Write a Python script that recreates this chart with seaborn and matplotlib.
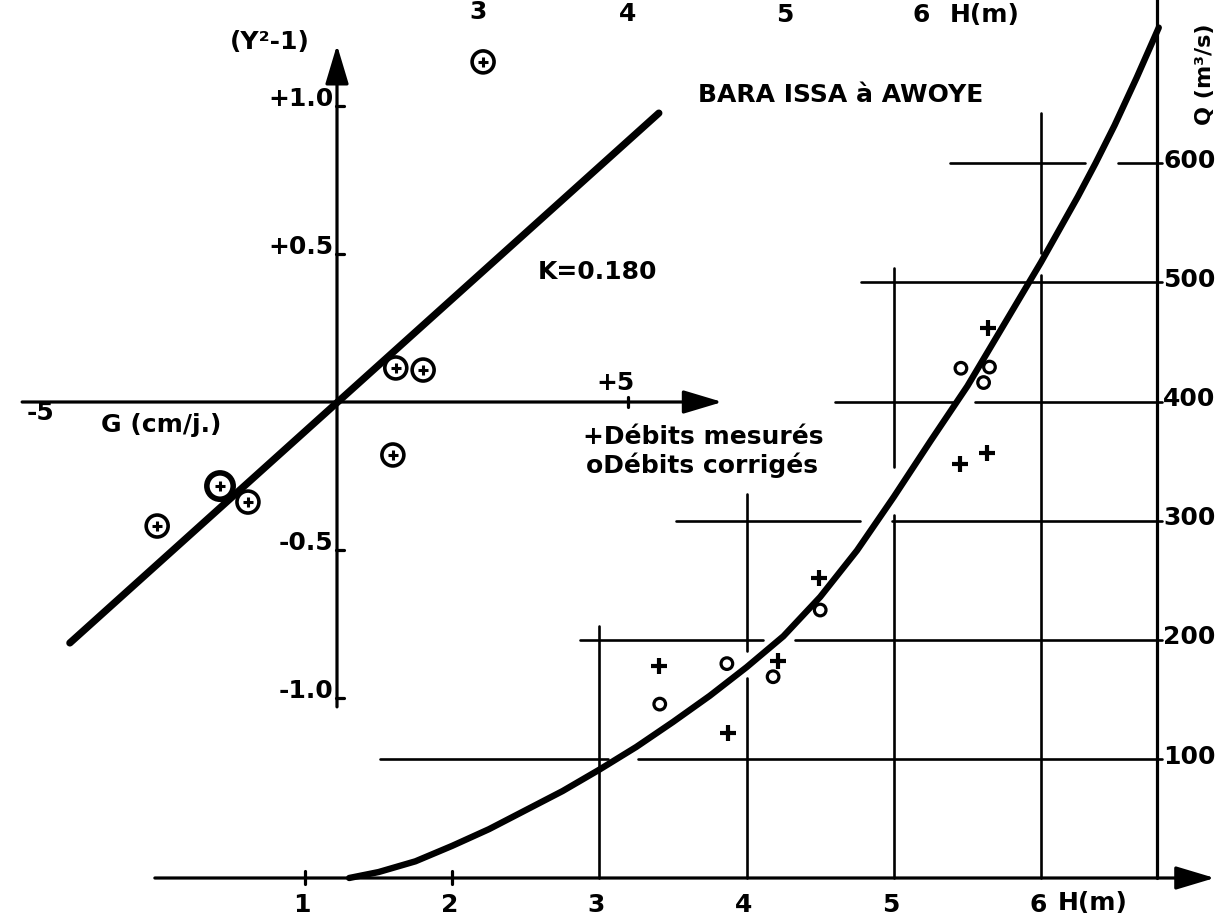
import matplotlib
matplotlib.use("Agg")
import matplotlib.pyplot as plt
import seaborn as sns
import pandas as pd

# ---------------- DATA ----------------
# Left diagram: gradient G (cm/j.) versus (Y^2 - 1)
G_points = [2.51, 1.01, 1.48, 0.96, -2.01, -1.53, -3.09]
Y_points = [1.149, 0.115, 0.108, -0.179, -0.284, -0.338, -0.419]
bold_point = [False, False, False, False, True, False, False]
G_line = [-4.59, 5.53]
Y_line = [-0.814, 0.976]
K_label = "K=0.180"
Y_ticks = [1.0, 0.5, -0.5, -1.0]
Y_tick_labels = ["+1.0", "+0.5", "-0.5", "-1.0"]
G_ticks = [5]

# Right diagram: rating curve H (m) -> Q (m3/s)
H_curve = [1.30, 1.50, 1.75, 2.00, 2.25, 2.50, 2.75, 3.00, 3.25, 3.50, 3.75,
           4.00, 4.25, 4.50, 4.75, 5.00, 5.25, 5.50, 5.75, 6.00, 6.25, 6.37,
           6.50, 6.65, 6.80]
Q_curve = [0, 5, 14, 27, 41, 57, 73, 91, 110, 131, 153,
           177, 203, 236, 275, 320, 367, 413, 465, 517, 572, 600,
           632, 672, 714]
H_mes = [3.405, 3.873, 4.213, 4.49, 5.64, 5.45, 5.63]
Q_mes = [178, 122, 182, 252, 462, 348, 357]
H_cor = [3.866, 3.41, 4.18, 4.50, 5.456, 5.65, 5.61]
Q_cor = [180, 146, 169, 225, 428, 429, 416]
H_ticks = [1, 2, 3, 4, 5, 6]
Q_ticks = [100, 200, 300, 400, 500, 600]
top_labels = ["3", "4", "5", "6", "H(m)"]

title = "BARA ISSA à AWOYE"
legend_mes = "+Débits mesurés"
legend_cor = "oDébits corrigés"

# ---------------- LAYOUT ----------------
W, Hpx = 1231, 921
gx0, gsc = 337.0, 58.2      # G -> px
yy0, ysc = 402.0, 296.0     # Y -> px (from top)
hx0, hsc = 157.8, 147.2     # H -> px
qy0, qsc = 878.0, 1.191     # Q -> px (from top)

sns.set_style("white")
plt.rcParams["font.family"] = ["DejaVu Sans"]
FS = 18
TXT = dict(color="black", fontweight="bold", fontsize=FS)

fig = plt.figure(figsize=(W / 100, Hpx / 100), dpi=100)
fig.patch.set_facecolor("white")
ax1 = fig.add_axes([0, 0, 1, 1])
ax2 = fig.add_axes([0, 0, 1, 1])
for ax in (ax1, ax2):
    ax.set_axis_off()
    ax.patch.set_alpha(0)
ax1.set_xlim((0 - gx0) / gsc, (W - gx0) / gsc)
ax1.set_ylim((yy0 - Hpx) / ysc, yy0 / ysc)
ax2.set_xlim((0 - hx0) / hsc, (W - hx0) / hsc)
ax2.set_ylim((qy0 - Hpx) / qsc, qy0 / qsc)

AX_LW = 2.3
GR_LW = 1.9
ARROW = dict(arrowstyle="-|>,head_length=1.5,head_width=0.45", lw=AX_LW,
             color="black", shrinkA=0, shrinkB=0, mutation_scale=16)

# ---- left diagram axes
ax1.annotate("", xy=(6.62, 0), xytext=(-5.41, 0), arrowprops=ARROW)
ax1.annotate("", xy=(0, 1.206), xytext=(0, -1.03), arrowprops=ARROW)
for yt in Y_ticks:
    ax1.plot([-0.02, 0.12], [yt, yt], color="black", lw=AX_LW)
for gt in G_ticks:
    ax1.plot([gt, gt], [-0.018, 0.018], color="black", lw=AX_LW)

# regression line
sns.lineplot(x=G_line, y=Y_line, ax=ax1, color="black", lw=5.2,
             estimator=None, sort=False, legend=False)

# circled points
dfp = pd.DataFrame({"G": G_points, "Y": Y_points, "bold": bold_point})
norm = dfp[~dfp["bold"]]
bold = dfp[dfp["bold"]]
sns.scatterplot(data=norm, x="G", y="Y", ax=ax1, marker="o", s=250,
                facecolor="none", edgecolor="black", linewidth=2.6, zorder=5)
sns.scatterplot(data=bold, x="G", y="Y", ax=ax1, marker="o", s=360,
                facecolor="none", edgecolor="black", linewidth=4.0, zorder=5)
sns.scatterplot(data=dfp, x="G", y="Y", ax=ax1, marker="+", s=55,
                color="black", linewidth=2.2, zorder=6)

# left diagram texts
ax1.text(-1.15, 1.216, "(Y²-1)", ha="center", va="center", **TXT)
for yt, lab in zip(Y_ticks, Y_tick_labels):
    ax1.text(-0.06, yt + 0.022, lab, ha="right", va="center", **TXT)
ax1.text(-5.10, -0.037, "-5", ha="center", va="center", **TXT)
ax1.text(-3.02, -0.078, "G (cm/j.)", ha="center", va="center", **TXT)
ax1.text(4.79, 0.064, "+5", ha="center", va="center", **TXT)
ax1.text(4.48, 0.439, K_label, ha="center", va="center", **TXT)

# ---- right diagram: axes and grid
ax2.annotate("", xy=(7.18, 0), xytext=(-0.02, 0), arrowprops=ARROW)
HR = 6.79
ax2.plot([HR, HR], [0, 740], color="black", lw=AX_LW)
for ht in H_ticks[:2]:
    ax2.plot([ht, ht], [-5, 6], color="black", lw=AX_LW)

h_segments = {   # Q level -> list of (H start, H end)
    100: [(1.51, 3.06), (3.26, HR + 0.03)],
    200: [(2.87, 4.11), (4.33, HR + 0.03)],
    300: [(3.52, 4.77), (4.99, HR + 0.03)],
    400: [(4.60, 5.40), (5.55, HR + 0.03)],
    500: [(4.78, HR + 0.03)],
    600: [(5.38, 6.30), (6.52, HR + 0.03)],
}
v_segments = {   # H level -> list of (Q start, Q end)
    3: [(0, 212)],
    4: [(0, 168), (191, 322)],
    5: [(0, 305), (345, 512)],
    6: [(0, 506), (525, 642)],
}
for q, segs in h_segments.items():
    for a, b in segs:
        ax2.plot([a, b], [q, q], color="black", lw=GR_LW)
for h, segs in v_segments.items():
    for a, b in segs:
        ax2.plot([h, h], [a, b], color="black", lw=GR_LW)

# rating curve
sns.lineplot(x=H_curve, y=Q_curve, ax=ax2, color="black", lw=4.6,
             estimator=None, sort=False, legend=False)

# measured / corrected discharges
sns.scatterplot(x=H_mes, y=Q_mes, ax=ax2, marker="+", s=120, color="black",
                linewidth=3.0, zorder=6)
sns.scatterplot(x=H_cor, y=Q_cor, ax=ax2, marker="o", s=70, facecolor="none",
                edgecolor="black", linewidth=2.3, zorder=6)

# right diagram texts
for q in Q_ticks:
    ax2.text(6.83, q + 2, str(q), ha="left", va="center", **TXT)
for h in H_ticks:
    ax2.text(h - 0.02, -23, str(h), ha="center", va="center", **TXT)
ax2.text(6.35, -21, "H(m)", ha="center", va="center", **TXT)

# figure-level texts (pixel positions converted to figure fraction)
def ftext(x, y, s, **kw):
    fig.text(x / W, 1 - y / Hpx, s, **kw)

ftext(841, 95, title, ha="center", va="center", **TXT)
ftext(583, 437, legend_mes, ha="left", va="center", **TXT)
ftext(586, 465, legend_cor, ha="left", va="center", **TXT)
for (x, y), s in zip([(478, 12), (628, 14), (785, 15), (921, 15), (985, 15)],
                     top_labels):
    ftext(x, y, s, ha="center", va="center", **TXT)
fig.text(1205 / W, 1 - 125 / Hpx, "Q (m³/s)", rotation=90, rotation_mode="anchor",
         ha="left", va="center", color="black", fontweight="bold", fontsize=16)

fig.savefig("out.png", dpi=100, facecolor="white")
